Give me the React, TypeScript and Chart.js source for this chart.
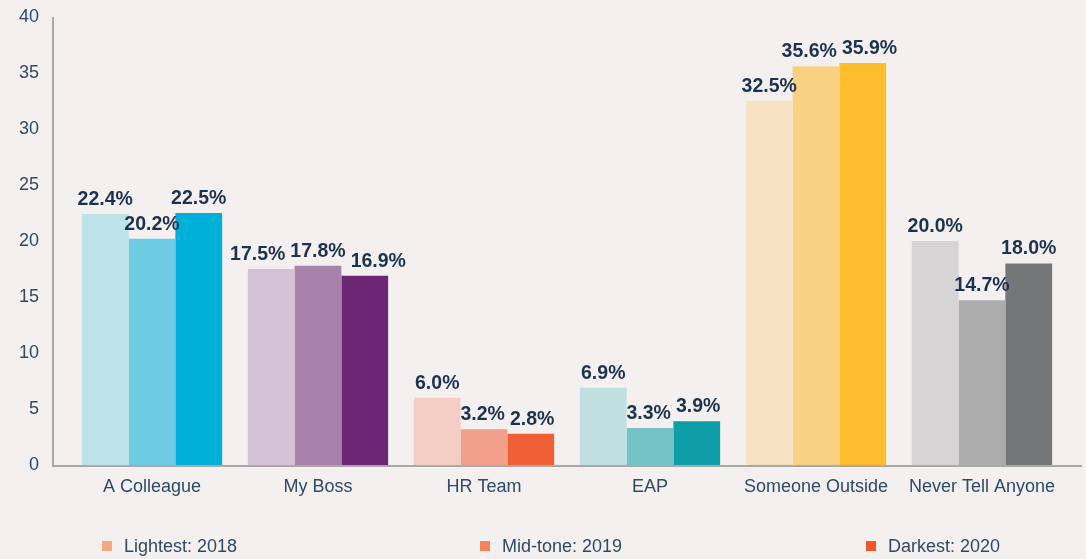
import React, { useEffect, useRef } from "react";
import { Chart, registerables } from "chart.js";

Chart.register(...registerables);

const categories = ["A Colleague", "My Boss", "HR Team", "EAP", "Someone Outside", "Never Tell Anyone"];
const values2018 = [22.4, 17.5, 6.0, 6.9, 32.5, 20.0];
const values2019 = [20.2, 17.8, 3.2, 3.3, 35.6, 14.7];
const values2020 = [22.5, 16.9, 2.8, 3.9, 35.9, 18.0];
const yTicks = [0, 5, 10, 15, 20, 25, 30, 35, 40];

const lightColors = ["#bde2ea", "#d5c2d6", "#f4cdc4", "#c0dfe0", "#f7e3c3", "#d6d4d5"];
const midColors = ["#6dcbe2", "#a882ab", "#f2a089", "#74c2c5", "#f8d183", "#aeadad"];
const darkColors = ["#00b0d8", "#6d2673", "#f05f35", "#0e9ea8", "#fdbd2c", "#747677"];

const legendItems = [
  { label: "Lightest: 2018", color: "#f7a981", left: 102 },
  { label: "Mid-tone: 2019", color: "#f5845a", left: 480 },
  { label: "Darkest: 2020", color: "#f1562a", left: 866 },
];

const FONT = "'Liberation Sans', Arial, Helvetica, sans-serif";
const TEXT = "#2f4a66";
const LABEL = "#1b3350";
const BG = "#f4f0ef";
const LABEL_SIZE = 19.5;

const decorPlugin = {
  id: "decor",
  afterDatasetsDraw(chart: any) {
    const { ctx, chartArea } = chart;
    ctx.save();
    ctx.strokeStyle = "#a9a9a9";
    ctx.lineWidth = 2;
    ctx.beginPath();
    ctx.moveTo(53, chartArea.top);
    ctx.lineTo(53, chartArea.bottom + 1);
    ctx.lineTo(1082, chartArea.bottom + 1);
    ctx.stroke();
    ctx.font = `bold ${LABEL_SIZE}px ${FONT}`;
    ctx.fillStyle = LABEL;
    ctx.textAlign = "center";
    ctx.textBaseline = "alphabetic";
    const nCat = chart.data.labels.length;
    for (let i = 0; i < nCat; i++) {
      const items: { x: number; y: number; w: number; t: string }[] = [];
      chart.data.datasets.forEach((ds: any, di: number) => {
        const bar: any = chart.getDatasetMeta(di).data[i];
        const t = (ds.data[i] as number).toFixed(1) + "%";
        items.push({ x: bar.x, y: bar.y - 9, w: ctx.measureText(t).width, t });
      });
      for (let iter = 0; iter < 6; iter++) {
        for (let j = 0; j < items.length - 1; j++) {
          const a = items[j];
          const b = items[j + 1];
          if (Math.abs(a.y - b.y) < LABEL_SIZE + 2) {
            const ov = a.x + a.w / 2 + 5 - (b.x - b.w / 2);
            if (ov > 0) {
              a.x -= ov / 2;
              b.x += ov / 2;
            }
          }
        }
      }
      items.forEach((it) => ctx.fillText(it.t, it.x, it.y));
    }
    ctx.restore();
  },
};

export default function App() {
  const ref = useRef<HTMLCanvasElement>(null);
  useEffect(() => {
    if (!ref.current) return;
    const chart = new Chart(ref.current, {
      type: "bar",
      data: {
        labels: categories,
        datasets: [
          { label: "2018", data: values2018, backgroundColor: lightColors, categoryPercentage: 0.845, barPercentage: 1.0 },
          { label: "2019", data: values2019, backgroundColor: midColors, categoryPercentage: 0.845, barPercentage: 1.0 },
          { label: "2020", data: values2020, backgroundColor: darkColors, categoryPercentage: 0.845, barPercentage: 1.0 },
        ],
      },
      options: {
        animation: false,
        responsive: false,
        maintainAspectRatio: false,
        layout: { padding: { top: 17, right: 21, left: 0, bottom: 0 } },
        plugins: { legend: { display: false }, tooltip: { enabled: false } },
        scales: {
          x: {
            grid: { display: false, drawTicks: false },
            border: { display: false },
            ticks: { color: TEXT, font: { family: FONT, size: 18 }, padding: 11, maxRotation: 0, autoSkip: false },
            afterFit(scale: any) {
              scale.height = 94;
            },
          },
          y: {
            min: 0,
            max: 40,
            grid: { display: false, drawTicks: false },
            border: { display: false },
            afterBuildTicks(scale: any) {
              scale.ticks = yTicks.map((v) => ({ value: v }));
            },
            ticks: { color: TEXT, font: { family: FONT, size: 18 }, padding: 30 },
            afterFit(scale: any) {
              scale.width = 69;
              scale.paddingTop = 0;
              scale.paddingBottom = 0;
            },
          },
        },
      },
      plugins: [decorPlugin],
    });
    return () => chart.destroy();
  }, []);

  return (
    <div style={{ position: "fixed", left: 0, top: 0, width: 1086, height: 559, background: BG, overflow: "hidden" }}>
      <canvas ref={ref} width={1086} height={559} style={{ display: "block" }} />
      {legendItems.map((it) => (
        <div
          key={it.label}
          style={{
            position: "absolute",
            left: it.left,
            top: 535,
            height: 22,
            display: "flex",
            alignItems: "center",
            fontFamily: FONT,
            fontSize: 18,
            color: TEXT,
            whiteSpace: "nowrap",
          }}
        >
          <span style={{ display: "inline-block", width: 10, height: 10, background: it.color, marginRight: 12 }} />
          {it.label}
        </div>
      ))}
    </div>
  );
}
